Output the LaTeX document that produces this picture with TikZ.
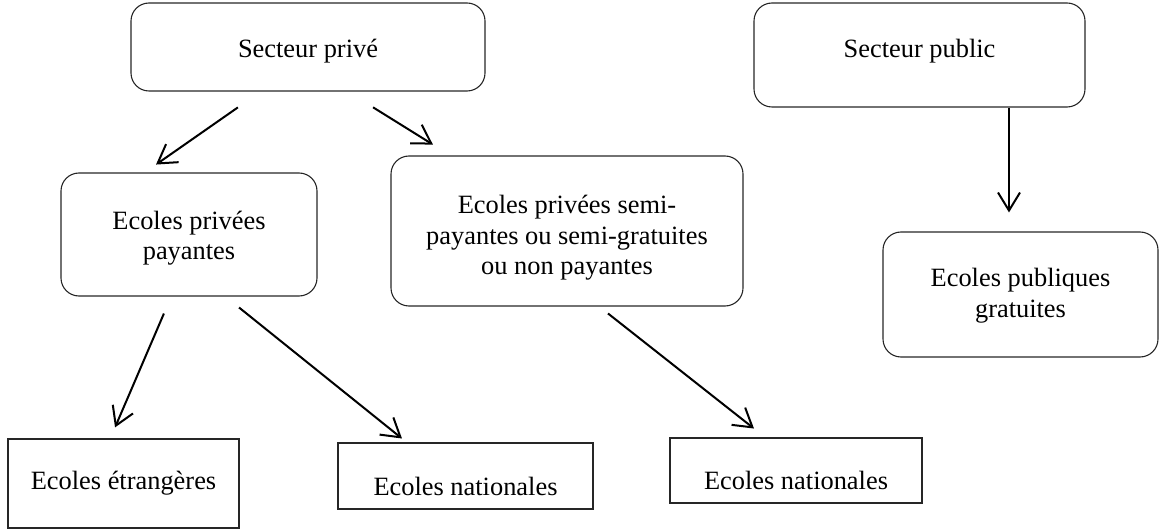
\documentclass[tikz,border=0pt]{standalone}
\usepackage{fontspec}
\setmainfont{Liberation Serif}
\usetikzlibrary{arrows.meta}
\begin{document}
\begin{tikzpicture}[x=1pt,y=-1pt,
  txt/.style={inner sep=0pt, align=center, font=\fontsize{26.4}{30.5}\selectfont},
  rbox/.style={txt, draw=black!85, line width=1.1pt, rounded corners=18pt},
  sbox/.style={txt, draw=black!85, line width=1.1pt},
  conn/.style={line width=2pt, -{Straight Barb[length=18pt,width=22pt]}}]
\useasboundingbox (0,0) rectangle (1159,529);
% nodes
\node[rbox, minimum width=354pt, minimum height=88pt, text height=28pt, text depth=6pt] (priv) at (308,47) {Secteur privé};
\node[rbox, minimum width=331pt, minimum height=104pt, text height=18pt, text depth=12pt] (pub) at (919.5,55) {Secteur public};
\node[rbox, minimum width=256pt, minimum height=123pt, text height=57pt, text depth=6pt] (pay) at (189,234.5) {Ecoles privées\\payantes};
\node[rbox, minimum width=352pt, minimum height=150pt, text height=94pt, text depth=6pt] (semi) at (567,231) {Ecoles privées semi-\\payantes ou semi-gratuites\\ou non payantes};
\node[rbox, minimum width=275pt, minimum height=125pt, text height=51pt, text depth=6pt] (pubq) at (1020.5,294.5) {Ecoles publiques\\gratuites};
\node[sbox, minimum width=231pt, minimum height=89pt] (etr) at (123.5,483.5) {Ecoles étrangères};
\node[sbox, minimum width=255pt, minimum height=66pt, text height=38pt, text depth=0pt] (nat1) at (465.5,476) {Ecoles nationales};
\node[sbox, minimum width=252pt, minimum height=65pt, text height=37pt, text depth=0pt] (nat2) at (796,470.5) {Ecoles nationales};
% connectors
\draw[conn, shorten <=27.7pt, shorten >=13.8pt] ([xshift=-47.4pt]priv.south) -- ([xshift=-44.3pt]pay.north);
\draw[conn, shorten <=29.9pt, shorten >=20.6pt] ([xshift=39.7pt]priv.south) -- ([xshift=-116.6pt]semi.north);
\draw[conn, shorten >=19pt] ([xshift=89.5pt]pub.south) -- ([xshift=-11.5pt]pubq.north);
\draw[conn, shorten <=18.5pt, shorten >=12pt] ([xshift=-17.8pt]pay.south) -- ([xshift=-13.2pt]etr.north);
\draw[conn, shorten <=17.5pt, shorten >=6.3pt] ([xshift=36.4pt]pay.south) -- ([xshift=-58.6pt]nat1.north);
\draw[conn, shorten <=11.2pt, shorten >=14.4pt] ([xshift=32.2pt]semi.south) -- ([xshift=-30.7pt]nat2.north);
\end{tikzpicture}
\end{document}
